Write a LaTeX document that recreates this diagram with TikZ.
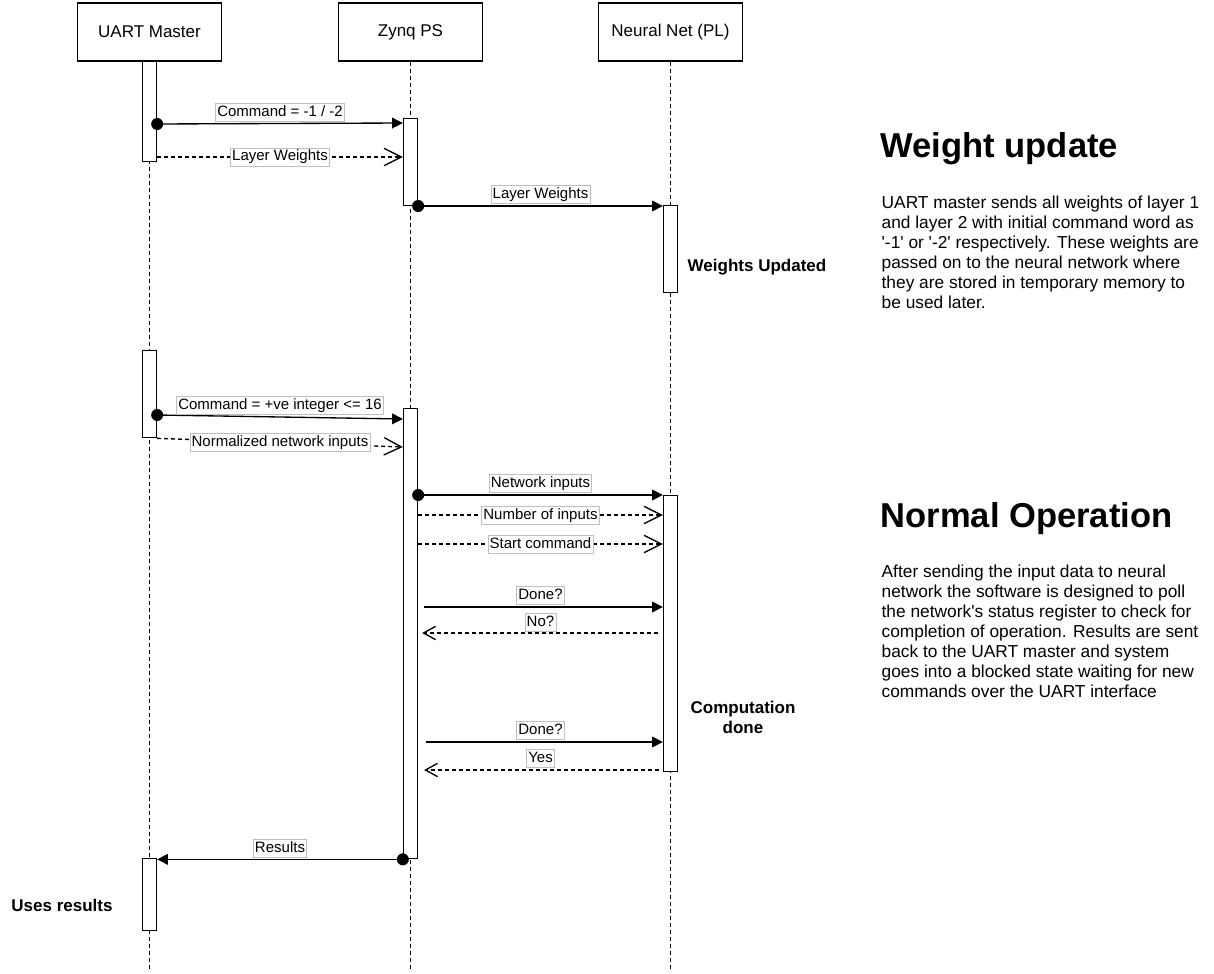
\documentclass[tikz,border=0pt]{standalone}
\usepackage{fontspec}
\setmainfont{Liberation Sans}
\usetikzlibrary{arrows.meta}

\begin{document}
\begin{tikzpicture}[x=0.75pt, y=-0.75pt, line width=1pt,
    head/.style = {draw, minimum width=108pt, minimum height=43.5pt, font=\fontsize{12.75}{15}\selectfont},
    bar/.style = {draw, fill=white, minimum width=10.5pt, inner sep=0pt, anchor=north},
    life/.style = {dash pattern=on 3pt off 2.25pt, line width=0.8pt},
    dot/.style = {circle, fill, inner sep=0pt, minimum size=9pt},
    call/.style = {-{Triangle[length=8pt, width=8pt]}},
    reply/.style = {dash pattern=on 3pt off 2.25pt, -{Straight Barb[length=13pt, width=13pt]}},
    back/.style = {dash pattern=on 3pt off 2.25pt, -{Straight Barb[length=9pt, width=10pt]}},
    lbl/.style = {draw=black!25, solid, line width=0.5pt, fill=white, inner sep=1.2pt, text height=8.5pt, text depth=2.5pt, font=\fontsize{11.25}{13}\selectfont},
    note/.style = {font=\fontsize{12.75}{15}\selectfont\bfseries, align=center},
    heading/.style = {anchor=base west, inner sep=0pt, font=\fontsize{25.9}{30}\selectfont\bfseries},
    para/.style = {anchor=north west, inner sep=0pt, align=left, font=\fontsize{13}{15}\selectfont}]

    \useasboundingbox (0,0) rectangle (1214,974);
    \coordinate (bottom) at (0,970);

    \node[head] (uart) at (149.5,32) {UART Master};
    \node[head] (zynq) at (410.5,32) {Zynq PS};
    \node[head] (nn) at (670.5,32) {Neural Net (PL)};

    \draw[life] (uart) -- (uart |- bottom);
    \draw[life] (zynq) -- (zynq |- bottom);
    \draw[life] (nn) -- (nn |- bottom);

    \node[bar, minimum height=75pt] (u1) at (uart |- 0,61) {};
    \node[bar, minimum height=65.25pt] (z1) at (zynq |- 0,118) {};
    \node[bar, minimum height=65.25pt] (n1) at (nn |- 0,205) {};
    \node[bar, minimum height=65.25pt] (u2) at (uart |- 0,350) {};
    \node[bar, minimum height=337.5pt] (z2) at (zynq |- 0,408) {};
    \node[bar, minimum height=207pt] (n2) at (nn |- 0,495) {};
    \node[bar, minimum height=54pt] (u3) at (uart |- 0,858) {};

    % weight update
    \node[dot] (d1) at (u1.east |- 0,124) {};
    \draw[call] (d1.center) -- (z1.west |- 0,123) node[lbl, midway, above=1.5pt] {Command = -1 / -2};
    \draw[reply] (u1.east |- 0,157) -- (z1.west |- 0,157) node[lbl, midway] {Layer Weights};
    \node[dot] (d2) at (z1.east |- 0,206) {};
    \draw[call] (d2.center) -- (n1.west |- 0,206) node[lbl, midway, above=1.5pt] {Layer Weights};

    % normal operation
    \node[dot] (d3) at (u2.east |- 0,415) {};
    \draw[call] (d3.center) -- (z2.west |- 0,419) node[lbl, midway, above=1.5pt] {Command = +ve integer <= 16};
    \draw[reply] (u2.south east) -- (z2.west |- 0,447) node[lbl, midway] {Normalized network inputs};
    \node[dot] (d4) at (z2.east |- 0,495) {};
    \draw[call] (d4.center) -- (n2.north west) node[lbl, midway, above=1.5pt] {Network inputs};
    \draw[reply] (z2.east |- 0,515) -- (n2.west |- 0,515) node[lbl, midway] {Number of inputs};
    \draw[reply] (z2.east |- 0,544) -- (n2.west |- 0,544) node[lbl, midway] {Start command};
    \draw[call, shorten <=4.5pt] (z2.east |- 0,607) -- (n2.west |- 0,607) node[lbl, midway, above=1.5pt] {Done?};
    \draw[back, shorten <=4pt, shorten >=3pt] (n2.west |- 0,633) -- (z2.east |- 0,633) node[lbl, midway, above=1pt] {No?};
    \draw[call, shorten <=6pt] (z2.east |- 0,742) -- (n2.west |- 0,742) node[lbl, midway, above=1.5pt] {Done?};
    \draw[back, shorten <=3pt, shorten >=4.5pt] (n2.west |- 0,770) -- (z2.east |- 0,770) node[lbl, midway, above=1.5pt] {Yes};
    \node[dot] (d5) at (z2.south west) {};
    \draw[call] (d5.center) -- (u3.east |- d5) node[lbl, midway, above=1.5pt] {Results};

    \node[note] (upd) at (757,267) {Weights Updated};
    \node[note] (comp) at (743,717) {Computation\\done};
    \node[note] (uses) at (62,905) {Uses results};

    \node[heading] (h1) at (880,157) {Weight update};
    \node[para] (t1) at (881,195) {UART master sends all weights of layer 1\\and layer 2 with initial command word as\\\textquotesingle-1\textquotesingle{} or \textquotesingle-2\textquotesingle{} respectively. These weights are\\passed on to the neural network where\\they are stored in temporary memory to\\be used later.};
    \node[heading] (h2) at (880,527) {Normal Operation};
    \node[para] (t2) at (881,564) {After sending the input data to neural\\network the software is designed to poll\\the network\textquotesingle s status register to check for\\completion of operation. Results are sent\\back to the UART master and system\\goes into a blocked state waiting for new\\commands over the UART interface};

    \end{tikzpicture}
\end{document}
